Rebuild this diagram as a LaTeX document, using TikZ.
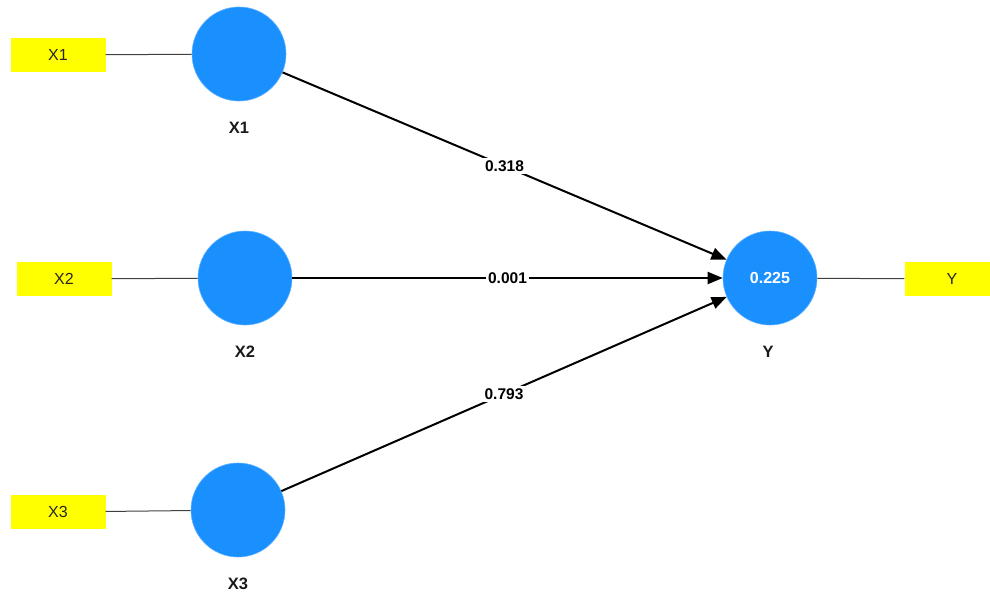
\documentclass[tikz,border=0pt]{standalone}
\usepackage{fontspec}
\setmainfont{Liberation Sans}
\usetikzlibrary{arrows.meta}
\definecolor{lvblue}{HTML}{1A90FF}
\definecolor{indyel}{HTML}{FFFF00}
\tikzset{
  latent/.style={circle, fill=lvblue, draw=lvblue!70!white, line width=0.6pt, minimum size=94pt, inner sep=0pt, text=white, font=\fontsize{16}{16}\selectfont\bfseries},
  indbox/.style={rectangle, fill=indyel, minimum width=95pt, minimum height=34pt, inner sep=0pt, text=black!85, font=\fontsize{16}{16}\selectfont},
  lvlabel/.style={font=\fontsize{16.5}{16.5}\selectfont\bfseries, text=black!90},
  wlabel/.style={fill=white, inner sep=2.5pt, font=\fontsize{15.5}{15.5}\selectfont\bfseries, text=black},
  path/.style={line width=2pt, black, -{Triangle[length=15pt,width=12pt]}},
  loadline/.style={line width=1pt, black!75}
}
\begin{document}
\begin{tikzpicture}[x=1pt,y=-1pt]
\useasboundingbox (0,0) rectangle (990,594);
% indicators
\node[indbox] (b1) at (58,55) {X1};
\node[indbox] (b2) at (64,279) {X2};
\node[indbox] (b3) at (58,512) {X3};
\node[indbox] (by) at (952,279) {Y};
% latent variables
\node[latent] (x1) at (239,54) {};
\node[latent] (x2) at (245,278) {};
\node[latent] (x3) at (238,510) {};
\node[latent] (y) at (770,278) {0.225};
% labels
\node[lvlabel] (lx1) at (239,128) {X1};
\node[lvlabel] (lx2) at (245,352) {X2};
\node[lvlabel] (lx3) at (238,584) {X3};
\node[lvlabel] (ly) at (768,352) {Y};
% measurement lines
\draw[loadline] (b1) -- (x1);
\draw[loadline] (b2) -- (x2);
\draw[loadline] (b3) -- (x3);
\draw[loadline] (y) -- (by);
% structural paths
\draw[path] (x1) -- node[wlabel] {0.318} (y);
\draw[path] (x2) -- node[wlabel] {0.001} (y);
\draw[path] (x3) -- node[wlabel] {0.793} (y);
\end{tikzpicture}
\end{document}
